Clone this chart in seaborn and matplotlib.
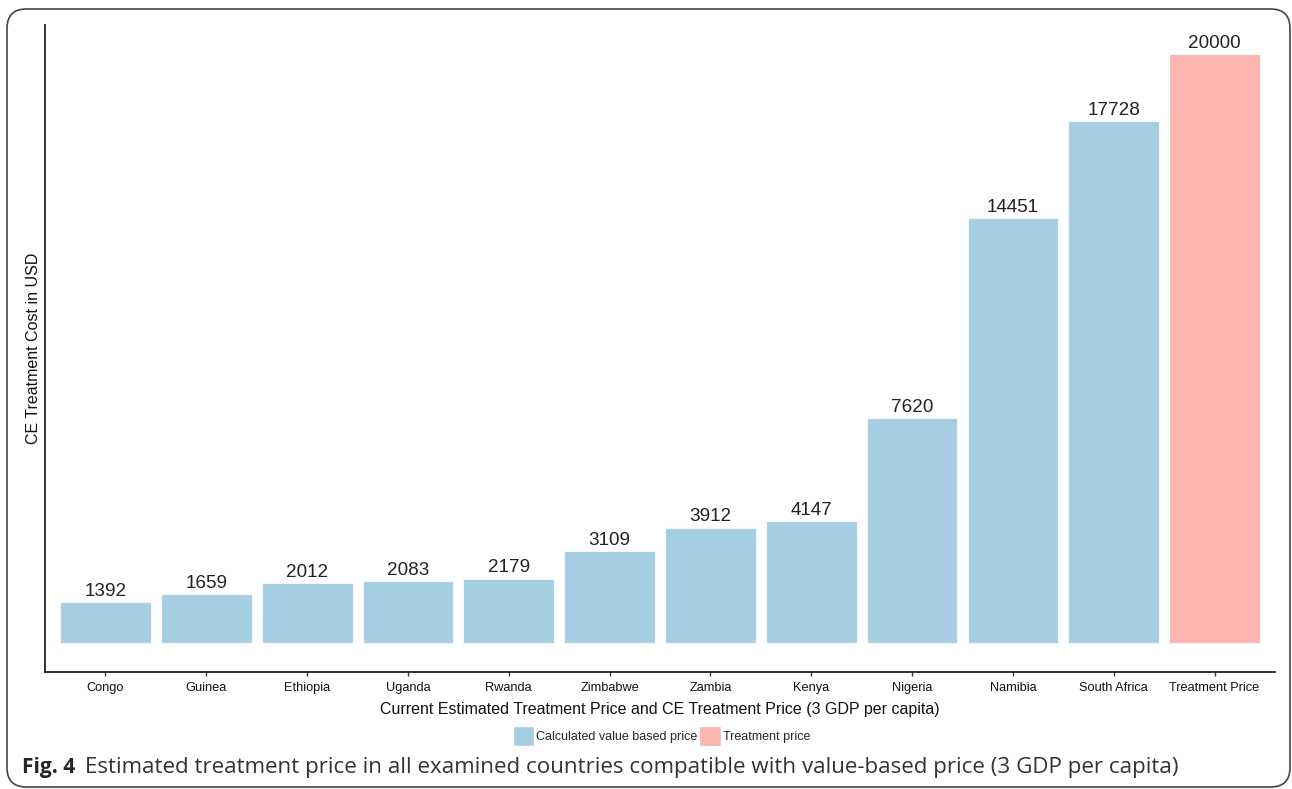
import numpy as np
import pandas as pd
import matplotlib
matplotlib.use("Agg")
import matplotlib.pyplot as plt
from matplotlib.patches import FancyBboxPatch, Patch
import seaborn as sns

countries = ["Congo", "Guinea", "Ethiopia", "Uganda", "Rwanda", "Zimbabwe",
             "Zambia", "Kenya", "Nigeria", "Namibia", "South Africa", "Treatment Price"]
costs = [1392, 1659, 2012, 2083, 2179, 3109, 3912, 4147, 7620, 14451, 17728, 20000]
groups = ["Calculated value based price"] * 11 + ["Treatment price"]
palette = {"Calculated value based price": "#a6cee3", "Treatment price": "#fbb4ae"}


def main():
    sns.set_style("white")
    plt.rcParams["font.family"] = ["Liberation Sans", "DejaVu Sans"]

    df = pd.DataFrame({"country": countries, "cost": costs, "group": groups})

    fig = plt.figure(figsize=(12.92, 7.89), dpi=100)
    ax = fig.add_axes([45 / 1292, 1 - 672 / 789, 1230 / 1292, 647 / 789])

    sns.barplot(data=df, x="country", y="cost", hue="group", palette=palette,
                dodge=False, width=0.9, order=countries, ax=ax, saturation=1,
                edgecolor="#f4f8fb", linewidth=0.8, legend=False)

    # value labels above the bars
    for cont in ax.containers:
        ax.bar_label(cont, fmt="%d", padding=1.5, fontsize=13.6, color="#222222")

    ax.set_xlim(-0.6, len(countries) - 0.4)
    ax.set_ylim(-1000, 21000)
    ax.set_yticks([])
    ax.tick_params(axis="x", labelsize=9.2, length=3, width=1, color="#333333",
                   pad=4, bottom=True, labelcolor="#111111")
    ax.set_xlabel("Current Estimated Treatment Price and CE Treatment Price (3 GDP per capita)",
                  fontsize=11.5, labelpad=6, color="#111111")
    ax.set_ylabel("CE Treatment Cost in USD", fontsize=11.5, labelpad=3, color="#111111")
    for s in ["top", "right"]:
        ax.spines[s].set_visible(False)
    for s in ["left", "bottom"]:
        ax.spines[s].set_color("#222222")
        ax.spines[s].set_linewidth(1.3)

    handles = [Patch(facecolor=palette[g], edgecolor="white", label=g) for g in palette]
    fig.legend(handles=handles, loc="center", bbox_to_anchor=(0.512, 1 - 736 / 789),
               ncol=2, frameon=False, fontsize=9, handlelength=1.7, handleheight=2.1,
               handletextpad=0.15, columnspacing=0.15)

    # figure caption
    cap_font = ["Open Sans", "DejaVu Sans"]
    fig.text(22 / 1292, 1 - 767 / 789, "Fig. 4", fontsize=15, fontweight="bold",
             family=cap_font, va="center", ha="left")
    fig.text(85 / 1292, 1 - 767 / 789,
             "Estimated treatment price in all examined countries compatible with value-based price (3 GDP per capita)",
             fontsize=16.1, family=cap_font, va="center", ha="left", color="#333333")

    border = FancyBboxPatch((7 / 1292, 2 / 789), 1283 / 1292, 778 / 789,
                            boxstyle="round,pad=0,rounding_size=0.015",
                            transform=fig.transFigure, facecolor="none",
                            edgecolor="#444444", linewidth=1.2, mutation_aspect=1292 / 789)
    fig.patches.append(border)

    fig.savefig("out.png", dpi=100)
    plt.close(fig)


if __name__ == "__main__":
    main()
